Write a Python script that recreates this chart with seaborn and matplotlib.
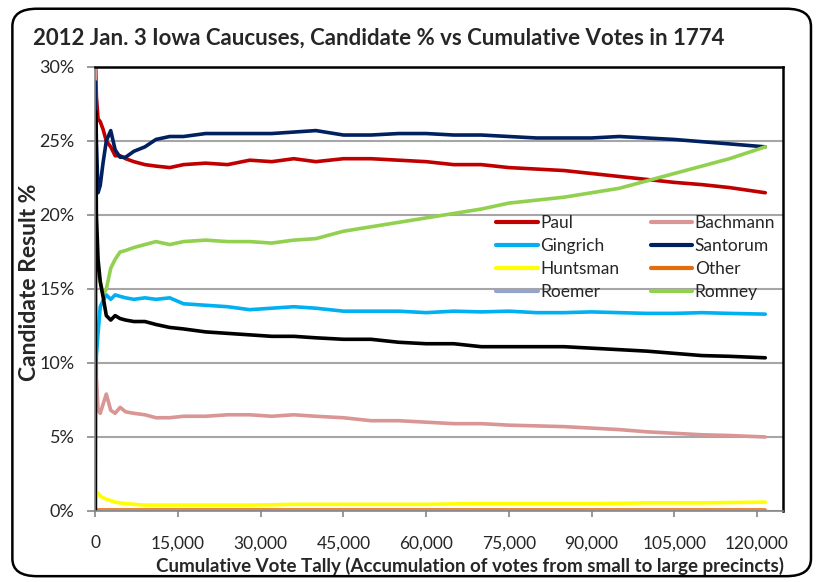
import numpy as np
import pandas as pd
import seaborn as sns
import matplotlib
matplotlib.use('Agg')
import matplotlib.pyplot as plt
from matplotlib.patches import FancyBboxPatch
from matplotlib.ticker import FuncFormatter

# cumulative votes (x) and candidate %
votes = [10, 50, 200, 500, 900, 1400, 2000, 2800, 3600, 4500, 5500, 7000, 9000, 11000,
         13500, 16000, 20000, 24000, 28000, 32000, 36000, 40000, 45000, 50000, 55000,
         60000, 65000, 70000, 75000, 80000, 85000, 90000, 95000, 100000, 105000, 110000,
         115000, 121500]

paul = [33, 30.5, 28, 26.5, 26.3, 25.8, 25.0, 24.6, 24.0, 24.0, 23.8, 23.6, 23.4, 23.3,
        23.2, 23.4, 23.5, 23.4, 23.7, 23.6, 23.8, 23.6, 23.8, 23.8, 23.7,
        23.6, 23.4, 23.4, 23.2, 23.1, 23.0, 22.8, 22.6, 22.4, 22.2, 22.05,
        21.85, 21.5]
bachmann = [33, 15, 9, 6.8, 6.6, 7.2, 7.9, 6.8, 6.6, 7.0, 6.7, 6.6, 6.5, 6.3,
            6.3, 6.4, 6.4, 6.5, 6.5, 6.4, 6.5, 6.4, 6.3, 6.1, 6.1,
            6.0, 5.9, 5.9, 5.8, 5.75, 5.7, 5.6, 5.5, 5.35, 5.25, 5.15,
            5.1, 5.0]
gingrich = [0, 8.0, 10.5, 12.0, 13.8, 14.2, 14.6, 14.3, 14.6, 14.5, 14.4, 14.3, 14.4, 14.3,
            14.4, 14.0, 13.9, 13.8, 13.6, 13.7, 13.8, 13.7, 13.5, 13.5, 13.5,
            13.4, 13.5, 13.45, 13.5, 13.4, 13.4, 13.45, 13.4, 13.35, 13.35, 13.4,
            13.35, 13.3]
santorum = [29, 28.0, 25.0, 21.5, 22.0, 23.5, 25.0, 25.7, 24.4, 23.9, 23.9, 24.3, 24.6, 25.1,
            25.3, 25.3, 25.5, 25.5, 25.5, 25.5, 25.6, 25.7, 25.4, 25.4, 25.5,
            25.5, 25.4, 25.4, 25.3, 25.2, 25.2, 25.2, 25.3, 25.2, 25.1, 24.95,
            24.8, 24.6]
huntsman = [0, 1.5, 1.3, 1.2, 1.0, 0.9, 0.8, 0.7, 0.6, 0.55, 0.5, 0.45, 0.4, 0.4,
            0.4, 0.4, 0.4, 0.4, 0.4, 0.42, 0.45, 0.45, 0.45, 0.45, 0.45,
            0.45, 0.48, 0.5, 0.5, 0.5, 0.5, 0.5, 0.52, 0.55, 0.55, 0.55,
            0.57, 0.6]
other = [0.1] * len(votes)
roemer = [0.03] * len(votes)
romney = [22, 22.5, 18.5, 16.0, 15.5, 14.6, 15.0, 16.4, 17.0, 17.5, 17.6, 17.8, 18.0, 18.2,
          18.0, 18.2, 18.3, 18.2, 18.2, 18.1, 18.3, 18.4, 18.9, 19.2, 19.5,
          19.8, 20.1, 20.4, 20.8, 21.0, 21.2, 21.5, 21.8, 22.3, 22.8, 23.3,
          23.8, 24.6]
perry = [0, 27, 20, 17, 15.5, 14.5, 13.2, 12.9, 13.2, 13.0, 12.9, 12.8, 12.8, 12.6,
         12.4, 12.3, 12.1, 12.0, 11.9, 11.8, 11.8, 11.7, 11.6, 11.6, 11.4,
         11.3, 11.3, 11.1, 11.1, 11.1, 11.1, 11.0, 10.9, 10.8, 10.65, 10.5,
         10.45, 10.35]

names = ['Paul', 'Bachmann', 'Gingrich', 'Santorum', 'Huntsman', 'Other', 'Roemer', 'Romney', 'Perry']
series = [paul, bachmann, gingrich, santorum, huntsman, other, roemer, romney, perry]
colors = ['#C00000', '#D99694', '#00B0F0', '#002060', '#FFFF00', '#E46C0A', '#95A3CD', '#92D050', '#000000']

df = pd.concat([pd.DataFrame({'votes': votes, 'pct': s, 'cand': n}) for n, s in zip(names, series)])

sns.set_style('white')
plt.rcParams['font.family'] = ['Lato', 'DejaVu Sans']

fig = plt.figure(figsize=(8.25, 5.82), dpi=100)
ax = fig.add_axes([0.1155, 0.122, 0.8335, 0.763])

sns.lineplot(data=df, x='votes', y='pct', hue='cand', hue_order=names,
             palette=dict(zip(names, colors)), linewidth=2.6, ax=ax, legend=False,
             sort=False, estimator=None)

ax.set_xlim(0, 124700)
ax.set_ylim(0, 30)
ax.set_xticks(range(0, 120001, 15000))
ax.set_yticks(range(0, 31, 5))
ax.xaxis.set_major_formatter(FuncFormatter(lambda v, p: f'{int(v):,}'))
ax.yaxis.set_major_formatter(FuncFormatter(lambda v, p: f'{int(v)}%'))
ax.tick_params(axis='x', labelsize=12.5, length=4.5, width=1.2, color='#868686', direction='out', bottom=True, pad=13)
ax.tick_params(axis='y', labelsize=13, length=6, width=1.2, color='#868686', direction='out', left=True, pad=9)
ax.grid(axis='y', color='#A6A6A6', linewidth=1.5)
ax.set_axisbelow(True)
for s in ['top', 'right']:
    ax.spines[s].set_color('black')
    ax.spines[s].set_linewidth(1.8)
for s in ['left', 'bottom']:
    ax.spines[s].set_color('#868686')
    ax.spines[s].set_linewidth(1.2)

ax.set_xlabel('Cumulative Vote Tally (Accumulation of votes from small to large precincts)',
              fontsize=13.5, fontweight='bold')
ax.xaxis.set_label_coords(0.545, -0.103)
ax.set_ylabel('Candidate Result %', fontsize=16.5, fontweight='bold')
ax.yaxis.set_label_coords(-0.08, 0.515)
fig.text(0.04, 0.935, '2012 Jan. 3 Iowa Caucuses, Candidate % vs Cumulative Votes in 1774',
         fontsize=16, fontweight='bold', va='center', ha='left')

# legend, row-wise like Excel, Perry left out (cut off in the original)
handles = [plt.Line2D([], [], color=c, lw=3) for c in colors]
hmap = dict(zip(names, handles))
order = ['Paul', 'Gingrich', 'Huntsman', 'Roemer', 'Bachmann', 'Santorum', 'Other', 'Romney']
ax.legend([hmap[n] for n in order], order, ncol=2, loc='upper left',
          bbox_to_anchor=(0.570, 0.687), frameon=False, fontsize=12.5, borderpad=0,
          handlelength=2.4, handletextpad=0.15, columnspacing=1.8, labelspacing=0.42)

fig.patches.append(FancyBboxPatch((0.015, 0.01), 0.968, 0.975, boxstyle='round,pad=0,rounding_size=0.03',
                                  transform=fig.transFigure, fill=False, edgecolor='black', linewidth=1.8))

fig.savefig('out.png', dpi=100)
